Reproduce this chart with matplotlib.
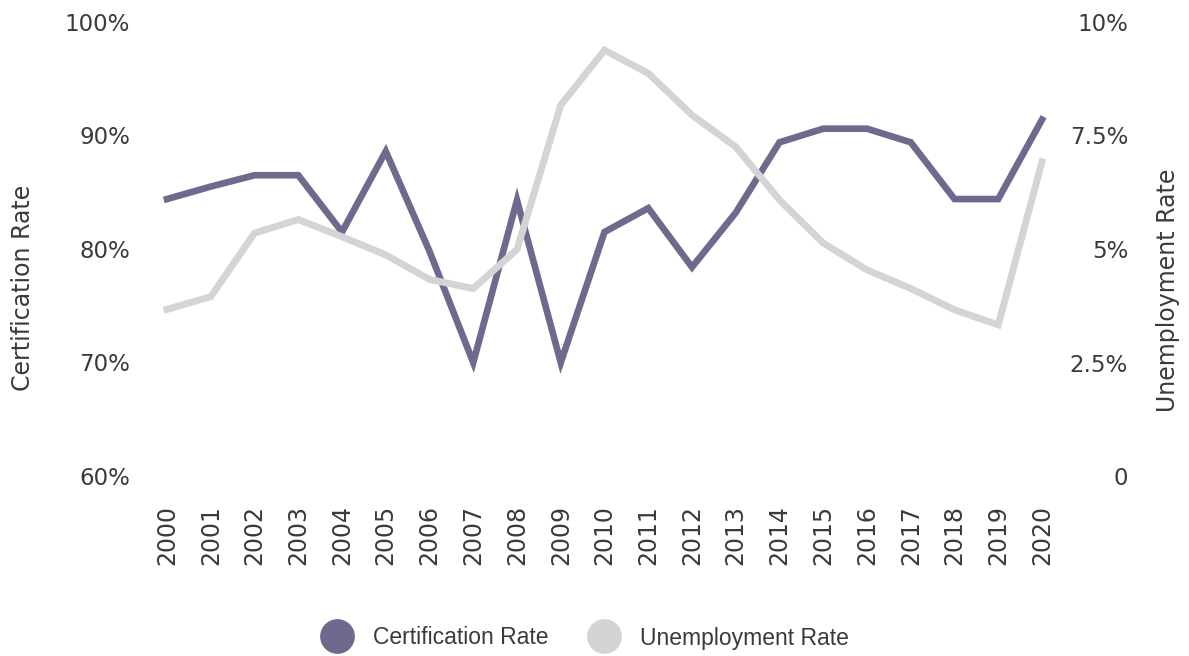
import matplotlib
matplotlib.use("Agg")
from matplotlib import pyplot as plt
from matplotlib.lines import Line2D

years = list(range(2000, 2021))
cert_rate = [84.4, 85.5, 86.5, 86.5, 81.5, 88.6, 79.8, 70.0, 84.3, 70.0, 81.5,
             83.6, 78.4, 83.2, 89.4, 90.6, 90.6, 89.4, 84.4, 84.4, 91.4]
unemp_rate = [3.67, 3.95, 5.35, 5.65, 5.27, 4.87, 4.33, 4.13, 4.99, 8.17, 9.38,
              8.87, 7.95, 7.25, 6.08, 5.13, 4.54, 4.13, 3.66, 3.33, 6.92]

left_ticks = [60, 70, 80, 90, 100]
left_labels = ["60%", "70%", "80%", "90%", "100%"]
right_ticks = [0, 2.5, 5, 7.5, 10]
right_labels = ["0", "2.5%", "5%", "7.5%", "10%"]

purple = "#6e6a8e"
grey = "#d4d4d4"
txt = "#3a3a3a"

W, H = 1189, 656
fig = plt.figure(figsize=(W / 100, H / 100), dpi=100)
ax = fig.add_axes([167 / W, (H - 476) / H, (1042 - 167) / W, (476 - 22) / H])
ax2 = ax.twinx()

ax.plot(years, cert_rate, color=purple, lw=4.8, clip_on=False, solid_joinstyle="miter")
ax2.plot(years, unemp_rate, color=grey, lw=5, clip_on=False, solid_joinstyle="miter")

ax.set_xlim(2000, 2020)
ax.set_ylim(60, 100)
ax2.set_ylim(0, 10)

ax.set_xticks(years)
ax.set_xticklabels([str(y) for y in years], rotation=90, fontsize=17, color=txt)
ax.set_yticks(left_ticks)
ax.set_yticklabels(left_labels, fontsize=16.5, color=txt)
ax2.set_yticks(right_ticks)
ax2.set_yticklabels(right_labels, fontsize=16.5, color=txt)

ax.tick_params(axis="x", length=0, pad=21)
ax.tick_params(axis="y", length=0, pad=26.6)
ax2.tick_params(axis="y", length=0, pad=62)
for lab in ax2.get_yticklabels():
    lab.set_horizontalalignment("right")

for a in (ax, ax2):
    for s in a.spines.values():
        s.set_visible(False)

fig.text(23 / W, 1 - 288 / H, "Certification Rate", rotation=90, ha="center",
         va="center", fontsize=17, color=txt)
fig.text(1168 / W, 1 - 290 / H, "Unemployment Rate", rotation=90, ha="center",
         va="center", fontsize=17, color=txt)

handles = [Line2D([], [], ls="", marker="o", ms=24, color=purple),
           Line2D([], [], ls="", marker="o", ms=24, color=grey)]
fig.legend(handles, ["Certification Rate", "Unemployment Rate"], ncol=2,
           loc="center", bbox_to_anchor=(586 / W, 1 - 638 / H), frameon=False,
           prop={"family": ["Liberation Sans Narrow", "Liberation Sans"], "size": 16.5},
           labelcolor=txt, handletextpad=1.0, columnspacing=1.8, handlelength=1.2)

fig.savefig("out.png", dpi=100)
